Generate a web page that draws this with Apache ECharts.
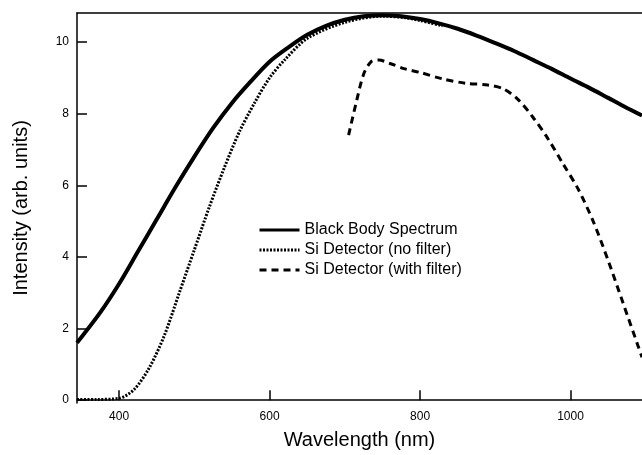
<!DOCTYPE html>
<html><head><meta charset="utf-8">
<script src="https://cdn.jsdelivr.net/npm/echarts@6/dist/echarts.min.js"></script>
<style>html,body{margin:0;padding:0;background:#fff}#c{width:642px;height:455px}</style>
</head><body><div id="c"></div>
<script>
// Black body spectrum
const bbX = [344, 375, 400, 425, 450, 475, 500, 525, 550, 575, 600, 625, 650, 675, 700, 725, 750, 775, 800, 825, 850, 875, 900, 925, 950, 975, 1000, 1025, 1050, 1075, 1095];
const bbY = [1.6, 2.45, 3.25, 4.15, 5.05, 5.95, 6.8, 7.6, 8.3, 8.9, 9.45, 9.85, 10.2, 10.45, 10.62, 10.72, 10.75, 10.72, 10.64, 10.52, 10.37, 10.18, 9.97, 9.75, 9.5, 9.25, 8.98, 8.72, 8.44, 8.16, 7.95];
// Si detector, no filter
const siX = [344, 370, 400, 420, 440, 460, 480, 500, 520, 540, 560, 580, 600, 620, 650, 700, 750, 780, 800, 830];
const siY = [0.02, 0.02, 0.05, 0.3, 0.9, 1.8, 3.0, 4.2, 5.4, 6.5, 7.5, 8.3, 9.0, 9.5, 10.1, 10.55, 10.72, 10.68, 10.6, 10.45];
// Si detector, with filter
const sfX = [705, 715, 725, 735, 745, 760, 780, 800, 830, 860, 890, 910, 930, 950, 970, 990, 1010, 1030, 1050, 1070, 1090, 1095];
const sfY = [7.4, 8.3, 9.1, 9.45, 9.5, 9.4, 9.25, 9.15, 8.97, 8.85, 8.8, 8.7, 8.4, 7.9, 7.3, 6.6, 5.9, 5.0, 3.9, 2.7, 1.5, 1.2];
const xTicks = [400, 600, 800, 1000];
const yTicks = [0, 2, 4, 6, 8, 10];
const names = ['Black Body Spectrum', 'Si Detector (no filter)', 'Si Detector (with filter)'];

const zip = (a, b) => a.map((v, i) => [v, b[i]]);
const FONT = '"Liberation Sans", Arial, sans-serif';
const chart = echarts.init(document.getElementById('c'));
chart.setOption({
  animation: false,
  backgroundColor: '#fff',
  textStyle: { fontFamily: FONT, color: '#000' },
  grid: { left: 77, right: -2, top: 13, bottom: 52 },
  legend: {
    orient: 'vertical', left: 253, top: 217, itemWidth: 40, itemHeight: 14, itemGap: 4,
    itemStyle: { opacity: 0 },
    lineStyle: { width: 3 },
    textStyle: { fontFamily: FONT, fontSize: 16, color: '#000' },
    data: names
  },
  xAxis: [{
    type: 'value', min: 344, max: 1095,
    name: 'Wavelength (nm)', nameLocation: 'middle', nameGap: 27,
    nameTextStyle: { fontFamily: FONT, fontSize: 20, color: '#000' },
    axisLine: { show: true, lineStyle: { color: '#000', width: 1.5 } },
    axisTick: { show: true, inside: true, length: 10, customValues: xTicks, lineStyle: { color: '#000', width: 1.5 } },
    axisLabel: { customValues: xTicks, formatter: v => String(v), fontFamily: FONT, fontSize: 12, color: '#000', margin: 8 },
    splitLine: { show: false }
  }, {
    type: 'value', position: 'top', min: 344, max: 1095,
    axisLine: { show: true, lineStyle: { color: '#000', width: 1.5 } },
    axisTick: { show: false }, axisLabel: { show: false }, splitLine: { show: false }
  }],
  yAxis: {
    type: 'value', min: -0.08, max: 10.81,
    name: 'Intensity (arb. units)', nameLocation: 'middle', nameGap: 46,
    nameTextStyle: { fontFamily: FONT, fontSize: 20, color: '#000' },
    axisLine: { show: true, lineStyle: { color: '#000', width: 1.5 } },
    axisTick: { show: true, inside: true, length: 10, customValues: yTicks, lineStyle: { color: '#000', width: 1.5 } },
    axisLabel: { customValues: yTicks, fontFamily: FONT, fontSize: 12, color: '#000', margin: 8 },
    splitLine: { show: false }
  },
  series: [
    { name: names[0], type: 'line', data: zip(bbX, bbY), smooth: 0.3, symbol: 'none',
      lineStyle: { color: '#000', width: 4, type: 'solid' }, itemStyle: { color: '#000' } },
    { name: names[1], type: 'line', data: zip(siX, siY), smooth: 0.3, symbol: 'none',
      lineStyle: { color: '#000', width: 3, type: [2, 1.5] }, itemStyle: { color: '#000' } },
    { name: names[2], type: 'line', data: zip(sfX, sfY), smooth: 0.3, symbol: 'none',
      lineStyle: { color: '#000', width: 3, type: [7, 5] }, itemStyle: { color: '#000' } }
  ]
});
</script></body></html>
